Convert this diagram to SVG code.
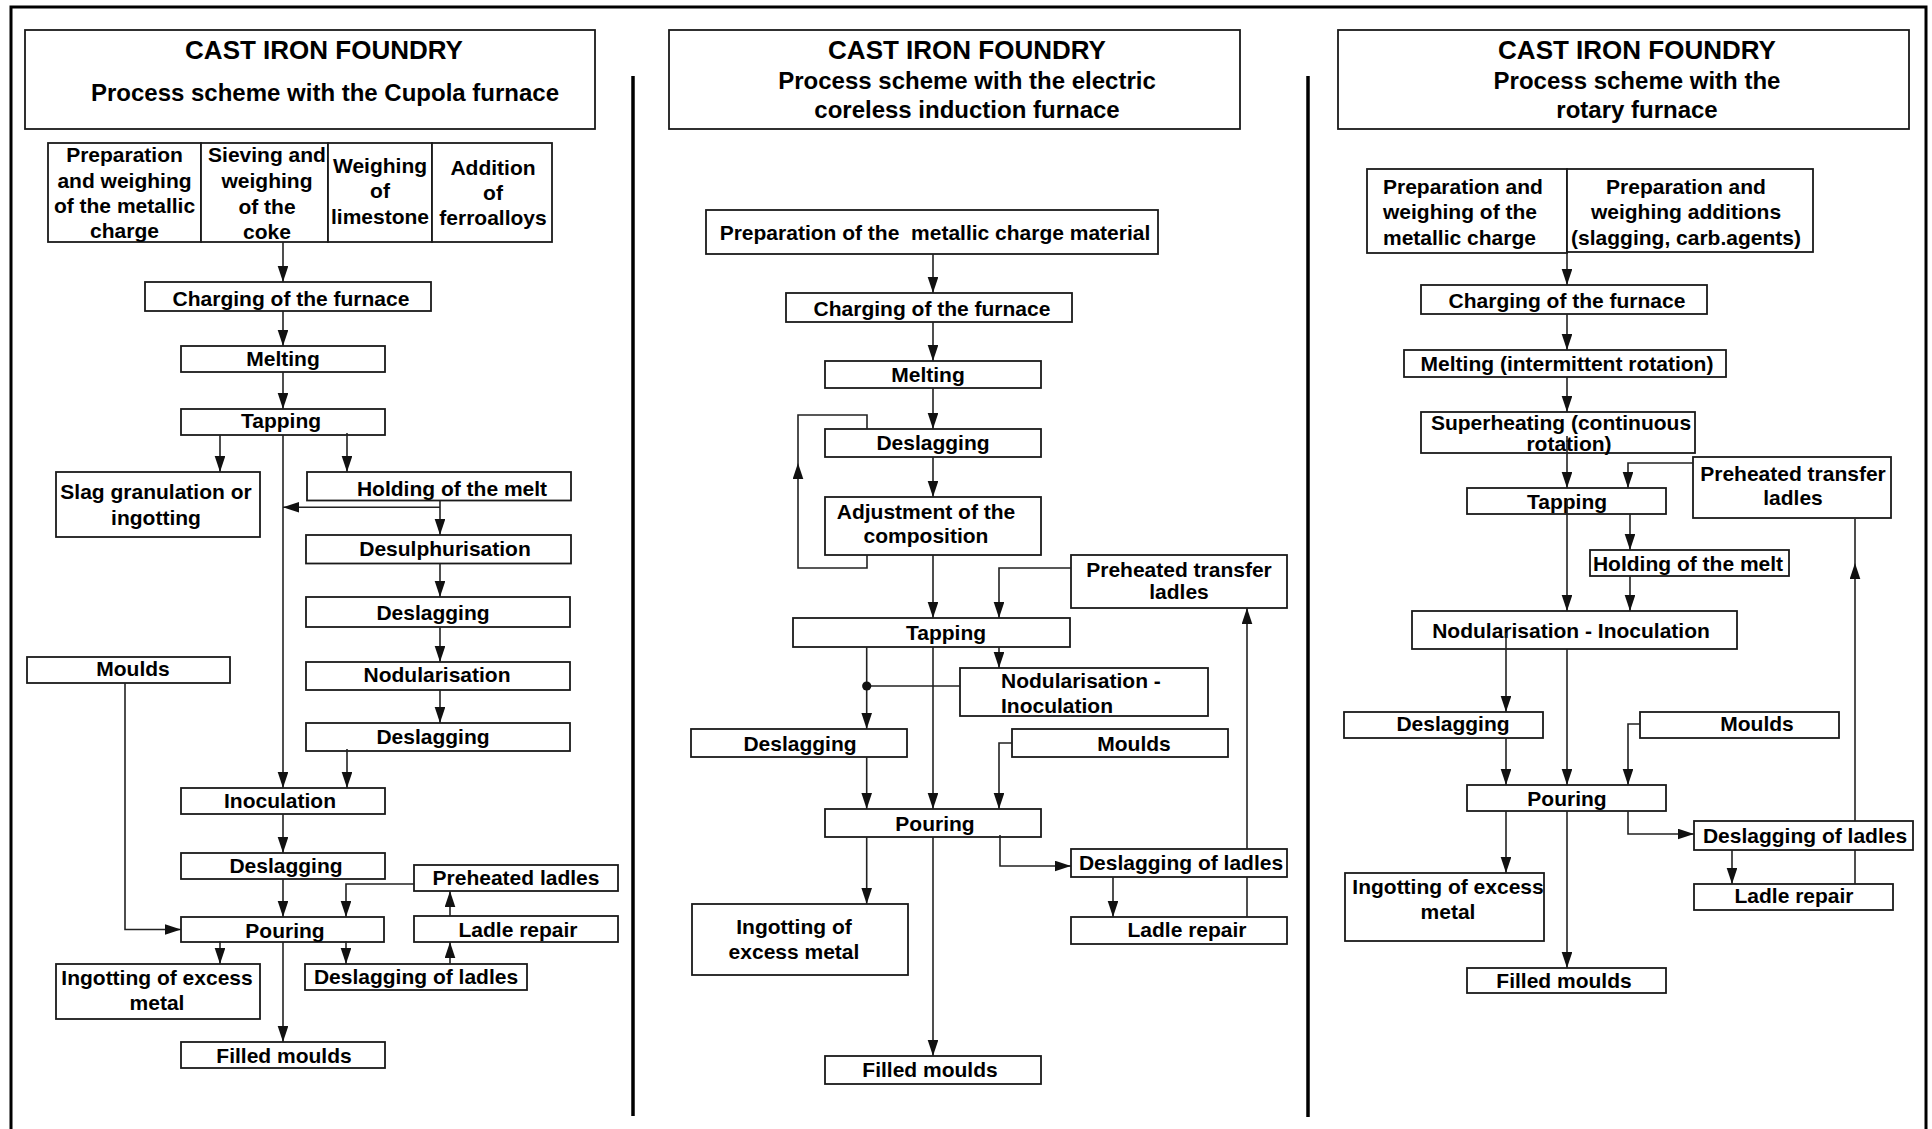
<svg xmlns="http://www.w3.org/2000/svg" width="1932" height="1129" viewBox="0 0 1932 1129">
<defs>
<marker id="ah" markerUnits="userSpaceOnUse" markerWidth="17" markerHeight="11" refX="16" refY="5.3" orient="auto">
<path d="M0,0 L16,5.3 L0,10.6 z" fill="#111"/>
</marker>
</defs>
<style>
.b{fill:#fff;stroke:#1a1a1a;stroke-width:1.8}
.t{font-family:"Liberation Sans",Arial,sans-serif;font-weight:bold;font-size:21px;fill:#000;text-anchor:middle}
.s{text-anchor:start}
.h1{font-size:26px}
.h2{font-size:24px}
.c{fill:none;stroke:#222;stroke-width:1.6}
.a{marker-end:url(#ah)}
.frame{fill:none;stroke:#000;stroke-width:3}
.div{stroke:#000;stroke-width:3.5}
</style>
<rect width="1932" height="1129" fill="#fff"/>
<rect class="frame" x="11" y="7" width="1915" height="1140"/>
<line class="div" x1="633" y1="76" x2="633" y2="1116"/>
<line class="div" x1="1308" y1="76" x2="1308" y2="1117"/>

<g id="nodes">
<!-- Panel 1 -->
<g id="p1-title"><rect class="b" x="25" y="30" width="570" height="99"/>
<text class="t h1" x="324" y="59">CAST IRON FOUNDRY</text>
<text class="t h2" x="325" y="101">Process scheme with the Cupola furnace</text></g>
<g id="p1-prep"><rect class="b" x="48" y="143" width="153" height="99"/>
<text class="t" x="124.5" y="162">Preparation</text><text class="t" x="124.5" y="187.5">and weighing</text><text class="t" x="124.5" y="213">of the metallic</text><text class="t" x="124.5" y="238">charge</text></g>
<g id="p1-coke"><rect class="b" x="201" y="143" width="127" height="99"/>
<text class="t" x="267" y="162">Sieving and</text><text class="t" x="267" y="188">weighing</text><text class="t" x="267" y="214">of the</text><text class="t" x="267" y="239">coke</text></g>
<g id="p1-lime"><rect class="b" x="328" y="143" width="104" height="99"/>
<text class="t" x="380" y="173">Weighing</text><text class="t" x="380" y="198">of</text><text class="t" x="380" y="224">limestone</text></g>
<g id="p1-ferro"><rect class="b" x="432" y="143" width="120" height="99"/>
<text class="t" x="493" y="175">Addition</text><text class="t" x="493" y="200">of</text><text class="t" x="493" y="225">ferroalloys</text></g>
<g id="p1-charging"><rect class="b" x="145" y="282" width="286" height="29"/><text class="t" x="291" y="306">Charging of the furnace</text></g>
<g id="p1-melting"><rect class="b" x="181" y="346" width="204" height="26"/><text class="t" x="283" y="366">Melting</text></g>
<g id="p1-tapping"><rect class="b" x="181" y="409" width="204" height="26"/><text class="t" x="281" y="428">Tapping</text></g>
<g id="p1-slag"><rect class="b" x="56" y="472" width="204" height="65"/><text class="t" x="156" y="499">Slag granulation or</text><text class="t" x="156" y="525">ingotting</text></g>
<g id="p1-holding"><rect class="b" x="307" y="472" width="264" height="28.5"/><text class="t" x="452" y="496">Holding of the melt</text></g>
<g id="p1-desulph"><rect class="b" x="306" y="535" width="265" height="28.5"/><text class="t" x="445" y="556">Desulphurisation</text></g>
<g id="p1-deslag1"><rect class="b" x="306" y="597" width="264" height="30"/><text class="t" x="433" y="620">Deslagging</text></g>
<g id="p1-nodul"><rect class="b" x="306" y="662" width="264" height="28"/><text class="t" x="437" y="682">Nodularisation</text></g>
<g id="p1-deslag2"><rect class="b" x="306" y="723" width="264" height="28"/><text class="t" x="433" y="744">Deslagging</text></g>
<g id="p1-moulds"><rect class="b" x="27" y="657" width="203" height="26"/><text class="t" x="133" y="676">Moulds</text></g>
<g id="p1-inoc"><rect class="b" x="181" y="788" width="204" height="26"/><text class="t" x="280" y="808">Inoculation</text></g>
<g id="p1-deslag3"><rect class="b" x="181" y="853" width="204" height="26"/><text class="t" x="286" y="873">Deslagging</text></g>
<g id="p1-pouring"><rect class="b" x="181" y="917" width="203" height="25"/><text class="t" x="285" y="937.5">Pouring</text></g>
<g id="p1-preheated"><rect class="b" x="414" y="865" width="204" height="26"/><text class="t" x="516" y="885">Preheated ladles</text></g>
<g id="p1-repair"><rect class="b" x="414" y="916" width="204" height="26"/><text class="t" x="518" y="937">Ladle repair</text></g>
<g id="p1-deslagladles"><rect class="b" x="305" y="964" width="222" height="26"/><text class="t" x="416" y="984">Deslagging of ladles</text></g>
<g id="p1-ingot"><rect class="b" x="56" y="964" width="204" height="55"/><text class="t" x="157" y="985">Ingotting of excess</text><text class="t" x="157" y="1010">metal</text></g>
<g id="p1-filled"><rect class="b" x="181" y="1042" width="204" height="26"/><text class="t" x="284" y="1063">Filled moulds</text></g>

<!-- Panel 2 -->
<g id="p2-title"><rect class="b" x="669" y="30" width="571" height="99"/>
<text class="t h1" x="967" y="59">CAST IRON FOUNDRY</text>
<text class="t h2" x="967" y="89">Process scheme with the electric</text>
<text class="t h2" x="967" y="118">coreless induction furnace</text></g>
<g id="p2-prep"><rect class="b" x="706" y="210" width="452" height="44"/><text class="t" x="935" y="240" xml:space="preserve">Preparation of the  metallic charge material</text></g>
<g id="p2-charging"><rect class="b" x="786" y="293" width="286" height="29"/><text class="t" x="932" y="316">Charging of the furnace</text></g>
<g id="p2-melting"><rect class="b" x="825" y="361" width="216" height="27"/><text class="t" x="928" y="382">Melting</text></g>
<g id="p2-deslag"><rect class="b" x="825" y="429" width="216" height="28"/><text class="t" x="933" y="450">Deslagging</text></g>
<g id="p2-adjust"><rect class="b" x="825" y="497" width="216" height="58"/><text class="t" x="926" y="519">Adjustment of the</text><text class="t" x="926" y="543">composition</text></g>
<g id="p2-preheated"><rect class="b" x="1071" y="555" width="216" height="53"/><text class="t" x="1179" y="577">Preheated transfer</text><text class="t" x="1179" y="599">ladles</text></g>
<g id="p2-tapping"><rect class="b" x="793" y="618" width="277" height="29"/><text class="t" x="946" y="640">Tapping</text></g>
<g id="p2-nodinoc"><rect class="b" x="960" y="668" width="248" height="48"/><text class="t s" x="1001" y="688">Nodularisation -</text><text class="t s" x="1001" y="713">Inoculation</text></g>
<g id="p2-deslag2"><rect class="b" x="691" y="729" width="216" height="28"/><text class="t" x="800" y="751">Deslagging</text></g>
<g id="p2-moulds"><rect class="b" x="1012" y="729" width="216" height="28"/><text class="t" x="1134" y="751">Moulds</text></g>
<g id="p2-pouring"><rect class="b" x="825" y="809" width="216" height="28"/><text class="t" x="935" y="831">Pouring</text></g>
<g id="p2-deslagladles"><rect class="b" x="1071" y="849" width="216" height="28"/><text class="t" x="1181" y="870">Deslagging of ladles</text></g>
<g id="p2-repair"><rect class="b" x="1071" y="917" width="216" height="27"/><text class="t" x="1187" y="937">Ladle repair</text></g>
<g id="p2-ingot"><rect class="b" x="692" y="904" width="216" height="71"/><text class="t" x="794" y="934">Ingotting of</text><text class="t" x="794" y="959">excess metal</text></g>
<g id="p2-filled"><rect class="b" x="825" y="1056" width="216" height="28"/><text class="t" x="930" y="1077">Filled moulds</text></g>

<!-- Panel 3 -->
<g id="p3-title"><rect class="b" x="1338" y="30" width="571" height="99"/>
<text class="t h1" x="1637" y="59">CAST IRON FOUNDRY</text>
<text class="t h2" x="1637" y="89">Process scheme with the</text>
<text class="t h2" x="1637" y="118">rotary furnace</text></g>
<g id="p3-prep"><rect class="b" x="1367" y="169" width="200" height="84"/><text class="t s" x="1383" y="194">Preparation and</text><text class="t s" x="1383" y="219">weighing of the</text><text class="t s" x="1383" y="245">metallic charge</text></g>
<g id="p3-add"><rect class="b" x="1567" y="169" width="246" height="83"/><text class="t" x="1686" y="194">Preparation and</text><text class="t" x="1686" y="219">weighing additions</text><text class="t" x="1686" y="245">(slagging, carb.agents)</text></g>
<g id="p3-charging"><rect class="b" x="1421" y="285" width="286" height="29"/><text class="t" x="1567" y="308">Charging of the furnace</text></g>
<g id="p3-melting"><rect class="b" x="1404" y="350" width="322" height="27"/><text class="t" x="1567" y="371">Melting (intermittent rotation)</text></g>
<g id="p3-superheat"><rect class="b" x="1421" y="412" width="274" height="41"/><text class="t" x="1561" y="430">Superheating (continuous</text><text class="t" x="1569" y="451">rotation)</text></g>
<g id="p3-preheated"><rect class="b" x="1693" y="457" width="198" height="61"/><text class="t" x="1793" y="481">Preheated transfer</text><text class="t" x="1793" y="505">ladles</text></g>
<g id="p3-tapping"><rect class="b" x="1467" y="488" width="199" height="26"/><text class="t" x="1567" y="509">Tapping</text></g>
<g id="p3-holding"><rect class="b" x="1590" y="550" width="199" height="26"/><text class="t" x="1688" y="571">Holding of the melt</text></g>
<g id="p3-nodinoc"><rect class="b" x="1412" y="611" width="325" height="38"/><text class="t" x="1571" y="638">Nodularisation - Inoculation</text></g>
<g id="p3-deslag"><rect class="b" x="1344" y="712" width="199" height="26"/><text class="t" x="1453" y="731">Deslagging</text></g>
<g id="p3-moulds"><rect class="b" x="1640" y="712" width="199" height="26"/><text class="t" x="1757" y="731">Moulds</text></g>
<g id="p3-pouring"><rect class="b" x="1467" y="785" width="199" height="26"/><text class="t" x="1567" y="806">Pouring</text></g>
<g id="p3-deslagladles"><rect class="b" x="1694" y="821" width="219" height="29"/><text class="t" x="1805" y="843">Deslagging of ladles</text></g>
<g id="p3-repair"><rect class="b" x="1694" y="884" width="199" height="26"/><text class="t" x="1794" y="903">Ladle repair</text></g>
<g id="p3-ingot"><rect class="b" x="1345" y="873" width="199" height="68"/><text class="t" x="1448" y="894">Ingotting of excess</text><text class="t" x="1448" y="919">metal</text></g>
<g id="p3-filled"><rect class="b" x="1467" y="968" width="199" height="25"/><text class="t" x="1564" y="988">Filled moulds</text></g>
</g>

<g id="connectors">
<!-- Panel 1 -->
<path class="c a" d="M283,242 V282"/>
<path class="c a" d="M283,311 V346"/>
<path class="c a" d="M283,372 V409"/>
<path class="c a" d="M220,435 V472"/>
<path class="c a" d="M347,433 V472"/>
<path class="c a" d="M283,435 V788"/>
<path class="c a" d="M440,500.5 V535"/>
<path class="c a" d="M440,507.3 H283"/>
<path class="c a" d="M440,563.5 V597"/>
<path class="c a" d="M440,627 V662"/>
<path class="c a" d="M440,690 V723"/>
<path class="c a" d="M347,749 V788"/>
<path class="c a" d="M125,683 V929.5 H181"/>
<path class="c a" d="M283,814 V853"/>
<path class="c a" d="M283,879 V917"/>
<path class="c a" d="M414,884 H346 V917"/>
<path class="c a" d="M450,916 V891"/>
<path class="c a" d="M450,964 V942"/>
<path class="c a" d="M220,941 V964"/>
<path class="c a" d="M346,941 V964"/>
<path class="c a" d="M283,942 V1042"/>
<!-- Panel 2 -->
<path class="c a" d="M933,254 V293"/>
<path class="c a" d="M933,322 V361"/>
<path class="c a" d="M933,388 V429"/>
<path class="c a" d="M933,457 V497"/>
<path class="c a" d="M867,555 V568 H798 V463"/>
<path class="c" d="M798,463 V415 H867 V429"/>
<path class="c a" d="M933,555 V618"/>
<path class="c a" d="M1071,568 H999 V618"/>
<path class="c a" d="M866.7,647 V729"/>
<path class="c" d="M960,686 H866.7"/>
<circle cx="866.7" cy="686" r="4.6" fill="#111"/>
<path class="c a" d="M933,647 V809"/>
<path class="c a" d="M999,647 V668"/>
<path class="c a" d="M866.7,757 V809"/>
<path class="c a" d="M1012,743 H999 V809"/>
<path class="c a" d="M866.7,837 V904"/>
<path class="c a" d="M933,837 V1056"/>
<path class="c a" d="M1000,835 V866 H1071"/>
<path class="c a" d="M1113,877 V917"/>
<path class="c" d="M1247,917 V877"/>
<path class="c a" d="M1247,849 V608"/>
<!-- Panel 3 -->
<path class="c a" d="M1567,253 V285"/>
<path class="c a" d="M1567,314 V350"/>
<path class="c a" d="M1567,377 V412"/>
<path class="c a" d="M1567,436 V488"/>
<path class="c a" d="M1693,463 H1628 V488"/>
<path class="c a" d="M1630,514 V550"/>
<path class="c a" d="M1630,576 V611"/>
<path class="c a" d="M1567,500 V611"/>
<path class="c a" d="M1567,649 V785"/>
<path class="c a" d="M1506,633 V712"/>
<path class="c a" d="M1640,724 H1628 V785"/>
<path class="c a" d="M1506,738 V785"/>
<path class="c a" d="M1506,811 V873"/>
<path class="c a" d="M1567,811 V968"/>
<path class="c a" d="M1628,811 V834 H1694"/>
<path class="c a" d="M1732,850 V884"/>
<path class="c" d="M1855,884 V850"/>
<path class="c a" d="M1855,821 V563"/>
<path class="c" d="M1855,563 V519"/>
</g>
</svg>
